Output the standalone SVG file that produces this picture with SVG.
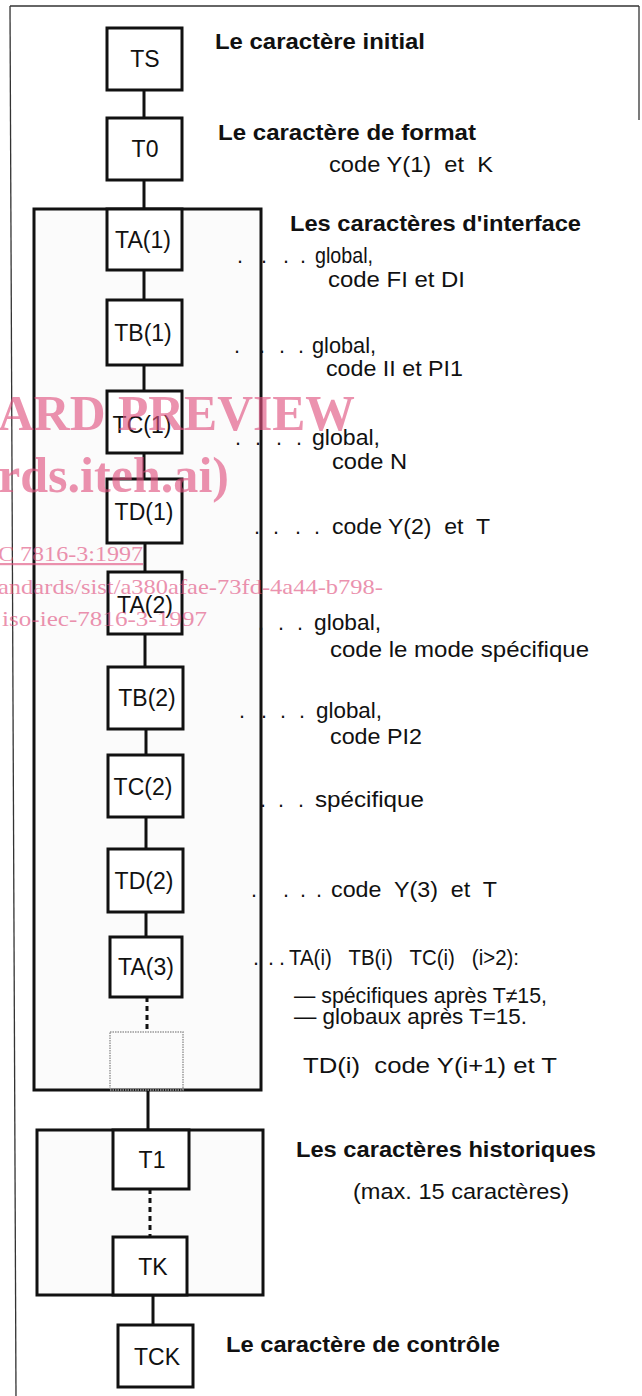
<svg xmlns="http://www.w3.org/2000/svg" width="642" height="1396" viewBox="0 0 642 1396">
<style>
.frame{fill:none;stroke:#333;stroke-width:1.3}
.box{fill:#fff;stroke:#111;stroke-width:3}
.grp{fill:#fbfbfb;stroke:#111;stroke-width:3}
.ghost{fill:none;stroke:#999;stroke-width:1.5;stroke-dasharray:1.5 1}
.con line{stroke:#111;stroke-width:3}
.con .dash{stroke-dasharray:5 4}
text{font-family:"Liberation Sans Narrow","Liberation Sans",Arial,sans-serif;fill:#111}
.lbl{font-size:23px;text-anchor:middle}
.h{font-size:22px;font-weight:bold}
.t{font-size:21.5px}
.wm text{font-family:"Liberation Serif","Times New Roman",serif;fill:#e0507e}
.wm{opacity:0.62}
.wmb{font-size:50px;font-weight:bold}
.wms{font-size:22px}
</style>
<rect width="642" height="1396" fill="#fff"/>
<g id="frame">
<line class="frame" x1="10" y1="6" x2="639" y2="6"/>
<line class="frame" x1="10" y1="6" x2="16" y2="1396"/>
<line class="frame" x1="639" y1="6" x2="639" y2="120"/>
</g>
<g id="interface-group"><rect class="grp" x="34" y="209" width="227" height="881"/></g>
<g id="historical-group"><rect class="grp" x="37" y="1130" width="226" height="165"/></g>
<g class="con" id="connectors">
<line x1="144" y1="90" x2="144" y2="118"/>
<line x1="144" y1="180" x2="144" y2="209"/>
<line x1="144" y1="270" x2="144" y2="300"/>
<line x1="144" y1="365" x2="144" y2="391"/>
<line x1="144" y1="453" x2="144" y2="479"/>
<line x1="145" y1="543" x2="145" y2="572"/>
<line x1="145" y1="634" x2="145" y2="667"/>
<line x1="146" y1="729" x2="146" y2="755"/>
<line x1="146" y1="817" x2="146" y2="849"/>
<line x1="146" y1="912" x2="146" y2="937"/>
<line class="dash" x1="147" y1="997" x2="147" y2="1032"/>
<line x1="148" y1="1090" x2="148" y2="1130"/>
<line class="dash" x1="150" y1="1189" x2="150" y2="1237"/>
<line x1="153" y1="1295" x2="153" y2="1325"/>
</g>
<g id="TS"><rect class="box" x="107" y="28" width="75" height="62"/><text class="lbl" x="145" y="67">TS</text></g>
<g id="T0"><rect class="box" x="107" y="118" width="75" height="62"/><text class="lbl" x="145" y="157">T0</text></g>
<g id="TA1"><rect class="box" x="107" y="209" width="75" height="61"/><text class="lbl" x="143" y="248">TA(1)</text></g>
<g id="TB1"><rect class="box" x="107" y="300" width="75" height="65"/><text class="lbl" x="143" y="341">TB(1)</text></g>
<g id="TC1"><rect class="box" x="107" y="391" width="75" height="62"/><text class="lbl" x="142" y="433">TC(1)</text></g>
<g id="TD1"><rect class="box" x="107" y="479" width="75" height="64"/><text class="lbl" x="144" y="520">TD(1)</text></g>
<g id="TA2"><rect class="box" x="108" y="572" width="74" height="62"/><text class="lbl" x="145" y="613">TA(2)</text></g>
<g id="TB2"><rect class="box" x="108" y="667" width="75" height="62"/><text class="lbl" x="147" y="706">TB(2)</text></g>
<g id="TC2"><rect class="box" x="108" y="755" width="75" height="62"/><text class="lbl" x="143" y="795">TC(2)</text></g>
<g id="TD2"><rect class="box" x="108" y="849" width="75" height="63"/><text class="lbl" x="144" y="889">TD(2)</text></g>
<g id="TA3"><rect class="box" x="110" y="937" width="72" height="60"/><text class="lbl" x="146" y="975">TA(3)</text></g>
<g id="TX"><rect class="ghost" x="110" y="1032" width="73" height="58"/></g>
<g id="T1"><rect class="box" x="113" y="1130" width="76" height="59"/><text class="lbl" x="152" y="1168">T1</text></g>
<g id="TK"><rect class="box" x="113" y="1237" width="74" height="58"/><text class="lbl" x="153" y="1275">TK</text></g>
<g id="TCK"><rect class="box" x="118" y="1325" width="75" height="62"/><text class="lbl" x="157" y="1365">TCK</text></g>
<g id="labels">
<text class="h" x="215" y="49" textLength="210" lengthAdjust="spacingAndGlyphs">Le caractère initial</text>
<text class="h" x="218" y="140" textLength="258" lengthAdjust="spacingAndGlyphs">Le caractère de format</text>
<text class="t" x="329" y="172" textLength="164" lengthAdjust="spacingAndGlyphs" xml:space="preserve">code Y(1)  et  K</text>
<text class="h" x="290" y="231" textLength="291" lengthAdjust="spacingAndGlyphs">Les caractères d'interface</text>
<text class="t" x="237 261 283 300" y="263">....</text>
<text class="t" x="315" y="263" textLength="58" lengthAdjust="spacingAndGlyphs">global,</text>
<text class="t" x="328" y="287" textLength="137" lengthAdjust="spacingAndGlyphs">code FI et DI</text>
<text class="t" x="234 259 279 298" y="353">....</text>
<text class="t" x="312" y="353" textLength="64" lengthAdjust="spacingAndGlyphs">global,</text>
<text class="t" x="326" y="376" textLength="137" lengthAdjust="spacingAndGlyphs">code II et PI1</text>
<text class="t" x="235 255 276 296" y="445">....</text>
<text class="t" x="312" y="445" textLength="68" lengthAdjust="spacingAndGlyphs">global,</text>
<text class="t" x="332" y="469" textLength="75" lengthAdjust="spacingAndGlyphs">code N</text>
<text class="t" x="254 273 295 314" y="534">....</text>
<text class="t" x="332" y="534" textLength="158" lengthAdjust="spacingAndGlyphs" xml:space="preserve">code Y(2)  et  T</text>
<text class="t" x="258 278 297" y="630">...</text>
<text class="t" x="314" y="630" textLength="67" lengthAdjust="spacingAndGlyphs">global,</text>
<text class="t" x="330" y="657" textLength="259" lengthAdjust="spacingAndGlyphs">code le mode spécifique</text>
<text class="t" x="239 261 280 299" y="718">....</text>
<text class="t" x="316" y="718" textLength="66" lengthAdjust="spacingAndGlyphs">global,</text>
<text class="t" x="330" y="744" textLength="92" lengthAdjust="spacingAndGlyphs">code PI2</text>
<text class="t" x="260 278 298" y="807">...</text>
<text class="t" x="315" y="807" textLength="109" lengthAdjust="spacingAndGlyphs">spécifique</text>
<text class="t" x="251 283 300 316" y="897">....</text>
<text class="t" x="331" y="897" textLength="166" lengthAdjust="spacingAndGlyphs" xml:space="preserve">code  Y(3)  et  T</text>
<text class="t" x="253 268 279" y="965">...</text>
<text class="t" x="289" y="965" textLength="230" lengthAdjust="spacingAndGlyphs" xml:space="preserve">TA(i)   TB(i)   TC(i)   (i&gt;2):</text>
<text class="t" x="294" y="1003" textLength="253" lengthAdjust="spacingAndGlyphs">— spécifiques après T≠15,</text>
<text class="t" x="294" y="1024" textLength="233" lengthAdjust="spacingAndGlyphs">— globaux après T=15.</text>
<text class="t" x="303" y="1073" textLength="254" lengthAdjust="spacingAndGlyphs" xml:space="preserve">TD(i)  code Y(i+1) et T</text>
<text class="h" x="296" y="1157" textLength="300" lengthAdjust="spacingAndGlyphs">Les caractères historiques</text>
<text class="t" x="353" y="1199" textLength="216" lengthAdjust="spacingAndGlyphs">(max. 15 caractères)</text>
<text class="h" x="226" y="1352" textLength="274" lengthAdjust="spacingAndGlyphs">Le caractère de contrôle</text>
</g>
<g id="watermark" class="wm">
<text class="wmb" x="-2" y="430" textLength="357" lengthAdjust="spacingAndGlyphs">ARD PREVIEW</text>
<text class="wmb" x="-2" y="492" textLength="231" lengthAdjust="spacingAndGlyphs">rds.iteh.ai)</text>
<text class="wms" x="-2" y="561" textLength="145" lengthAdjust="spacingAndGlyphs" text-decoration="underline">C 7816-3:1997</text>
<text class="wms" x="-2" y="594" textLength="385" lengthAdjust="spacingAndGlyphs">andards/sist/a380afae-73fd-4a44-b798-</text>
<text class="wms" x="2" y="626" textLength="205" lengthAdjust="spacingAndGlyphs">iso-iec-7816-3-1997</text>
</g>
</svg>
